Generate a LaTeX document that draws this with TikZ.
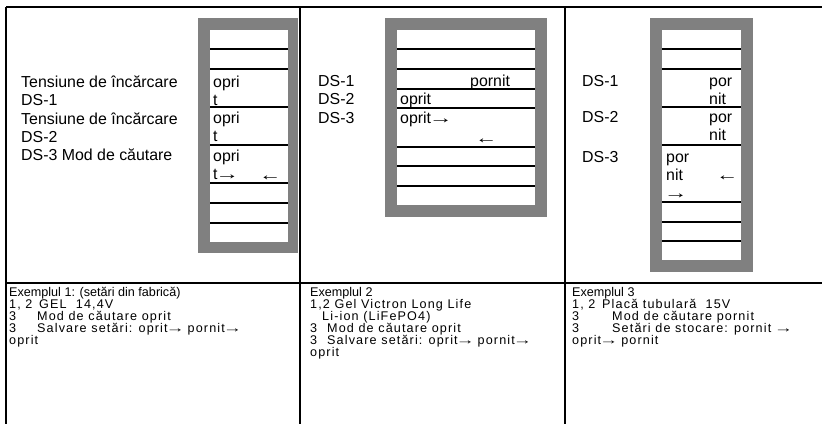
\documentclass[tikz,border=0pt]{standalone}
\usepackage{fontspec}
\setmainfont{Liberation Sans}
\definecolor{dispgray}{RGB}{128,128,128}
\newcommand\arrR{\kern-.14em\scalebox{1.5}[1]{→}\kern-.14em}
\newcommand\arrL{\scalebox{1.4}[1]{←}}
\tikzset{
  grid/.style={line width=1.6pt},
  display/.style={fill=dispgray},
  screen/.style={fill=white},
  rowline/.style={line width=1.1pt},
  big/.style={anchor=base west, inner sep=0pt, align=left, font=\fontsize{15.9}{18.3}\selectfont},
  small/.style={anchor=base west, inner sep=0pt, align=left, font=\fontsize{12.6}{12}\selectfont},
  spaced/.style={small, font=\fontsize{12.6}{12}\selectfont\addfontfeature{LetterSpace=9}}
}

\begin{document}
\begin{tikzpicture}[x=1pt,y=-1pt]
\useasboundingbox (0,0) rectangle (822,424);
% table (base of a text node = its last line)
\draw[grid] (6,7) -- (822,7);
\draw[grid] (6,283) -- (822,283);
\draw[grid] (6,7) -- (6,424);
\draw[grid] (300,7) -- (300,424);
\draw[grid] (565,7) -- (565,424);

% display 1
\fill[display] (198,18) rectangle (298,253);
\fill[screen] (210,30) rectangle (288,242);
\foreach \y in {49,69,107,145,183,203,223}
  \draw[rowline] (210,\y) -- (288,\y);
\node[big] (lblA) at (21,160.7) {Tensiune de încărcare\\DS-1\\Tensiune de încărcare\\DS-2\\DS-3 Mod de căutare};
\node[big] (cellA1) at (213,105.8) {opri\\t};
\node[big] (cellA2) at (213,141.8) {opri\\t};
\node[big] (cellA3) at (213,179.8) {opri\\t\arrR};
\node[big] (backA) at (259,180) {\arrL};

% display 2
\fill[display] (385,18) rectangle (547,217);
\fill[screen] (397,30) rectangle (535,205);
\foreach \y in {49,69,89,108,147,166,186}
  \draw[rowline] (397,\y) -- (535,\y);
\node[big] (lblB) at (318,123.1) {DS-1\\DS-2\\DS-3};
\node[big] (onB) at (470,86.5) {pornit};
\node[big] (offB1) at (400,104.5) {oprit};
\node[big] (offB2) at (400,123.5) {oprit\arrR};
\node[big] (backB) at (475,143) {\arrL};

% display 3
\fill[display] (650,18) rectangle (753,272);
\fill[screen] (662,30) rectangle (741,260);
\foreach \y in {49,69,107,145,202,222,241}
  \draw[rowline] (662,\y) -- (741,\y);
\node[big] (lblC1) at (582,86.5) {DS-1};
\node[big] (lblC2) at (582,122.5) {DS-2};
\node[big] (lblC3) at (582,162) {DS-3};
\node[big] (onC1) at (709,104.8) {por\\nit};
\node[big] (onC2) at (709,140.8) {por\\nit};
\node[big] (onC3) at (666,198.6) {por\\nit\\\arrR};
\node[big] (backC) at (716,180.3) {\arrL};

% examples
\node[small] (exA) at (9,296.5) {Exemplul 1: (setări din fabrică)};
\node[spaced] (setA) at (9,344.5) {\makebox[30pt][l]{1, 2}GEL~~14,4V\\\makebox[28pt][l]{3}Mod de căutare oprit\\\makebox[28pt][l]{3}Salvare setări: oprit\arrR{} pornit\arrR\\oprit};
\node[small] (exB) at (310,296.5) {Exemplul 2};
\node[spaced] (setB) at (310,356.5) {1,2 Gel Victron Long Life\\\hspace*{12pt}Li-ion (LiFePO4)\\\makebox[17pt][l]{3}Mod de căutare oprit\\\makebox[17pt][l]{3}Salvare setări: oprit\arrR{} pornit\arrR\\oprit};
\node[small] (exC) at (572,296.5) {Exemplul 3};
\node[spaced] (setC) at (572,344.5) {\makebox[30pt][l]{1, 2}Placă tubulară~~15V\\\makebox[40pt][l]{3}Mod de căutare pornit\\\makebox[40pt][l]{3}Setări de stocare: pornit \arrR\\oprit\arrR{} pornit};
\end{tikzpicture}
\end{document}
